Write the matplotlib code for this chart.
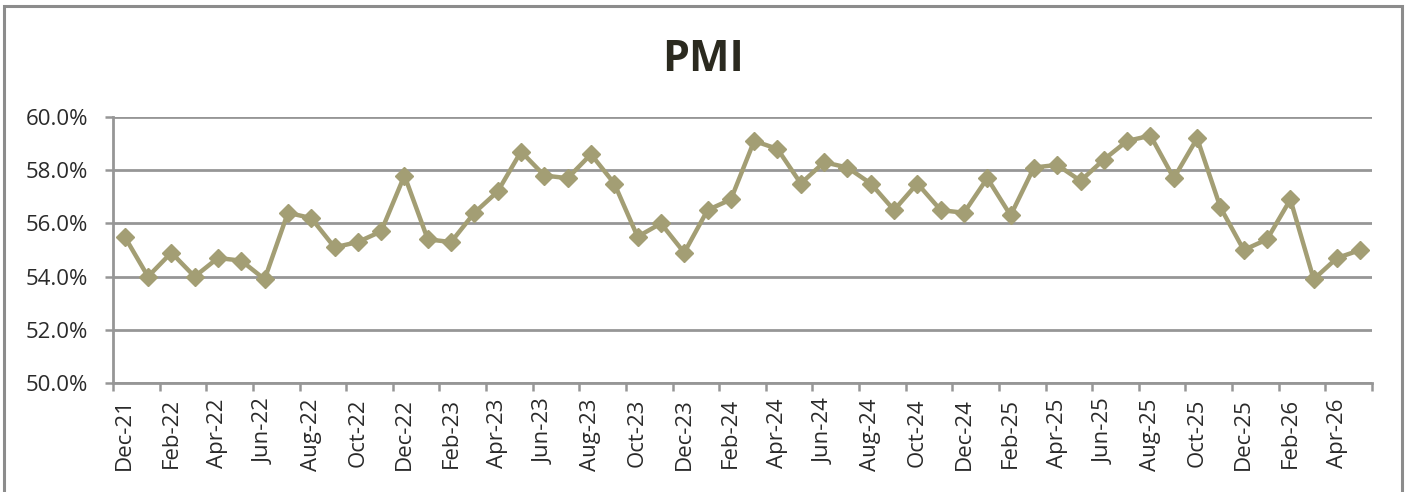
import matplotlib
matplotlib.use("Agg")
import matplotlib.pyplot as plt
import pandas as pd
from matplotlib.patches import Rectangle
from matplotlib.ticker import FuncFormatter

months = pd.date_range("2021-12-01", "2026-05-01", freq="MS").strftime("%b-%y").tolist()
pmi = [55.5, 54.0, 54.9, 54.0, 54.7, 54.6, 53.9, 56.4, 56.2, 55.1, 55.3, 55.7, 57.8,
       55.4, 55.3, 56.4, 57.2, 58.7, 57.8, 57.7, 58.6, 57.5, 55.5, 56.0, 54.9, 56.5, 56.9,
       59.1, 58.8, 57.5, 58.3, 58.1, 57.5, 56.5, 57.5, 56.5, 56.4, 57.7, 56.3, 58.1, 58.2,
       57.6, 58.4, 59.1, 59.3, 57.7, 59.2, 56.6, 55.0, 55.4, 56.9, 53.9, 54.7, 55.0]
y_ticks = [50, 52, 54, 56, 58, 60]

line_color = "#A39E74"
grid_color = "#969696"
text_color = "#2a2a2a"

fig = plt.figure(figsize=(14.06, 4.92), dpi=100)
fig.patch.set_facecolor("white")
fig.add_artist(Rectangle((0.003, -0.01), 0.994, 0.998, transform=fig.transFigure,
                         fill=False, edgecolor="#8c8c8c", linewidth=2.2))

ax = fig.add_axes([0.0804, 0.2215, 0.8954, 0.5407])
x = list(range(len(pmi)))
ax.plot(x, pmi, color=line_color, linewidth=3.2, marker="D", markersize=9,
        markerfacecolor=line_color, markeredgecolor=line_color, zorder=3)

ax.set_ylim(50, 60)
ax.set_yticks(y_ticks)
ax.yaxis.set_major_formatter(FuncFormatter(lambda v, p: f"{v:.1f}%"))
ax.set_xlim(-0.5, len(pmi) - 0.5)

# boundary ticks (every 2 categories), labels at category centers
ax.set_xticks([i - 0.5 for i in range(0, len(pmi) + 1, 2)])
ax.set_xticklabels([])
ax.set_xticks(list(range(0, len(pmi), 2)), minor=True)
ax.set_xticklabels(months[::2], minor=True, rotation=90, fontsize=16,
                   color=text_color, family="Open Sans")
ax.tick_params(axis="x", which="major", length=5.5, width=1.8, color=grid_color, direction="out")
ax.tick_params(axis="x", which="minor", length=0, pad=11)
ax.tick_params(axis="y", length=6, width=1.8, color=grid_color, labelsize=16,
               labelcolor=text_color, pad=12)
for lab in ax.get_yticklabels():
    lab.set_family("Open Sans")

ax.grid(axis="y", color=grid_color, linewidth=2)
ax.set_axisbelow(True)
for s in ["top", "right"]:
    ax.spines[s].set_visible(False)
for s in ["left", "bottom"]:
    ax.spines[s].set_color(grid_color)
    ax.spines[s].set_linewidth(2)

fig.text(0.5, 0.879, "PMI", ha="center", va="center", fontsize=31, fontweight="bold",
         color="#2b2a1f", family="Open Sans")

fig.savefig("out.png", dpi=100)
